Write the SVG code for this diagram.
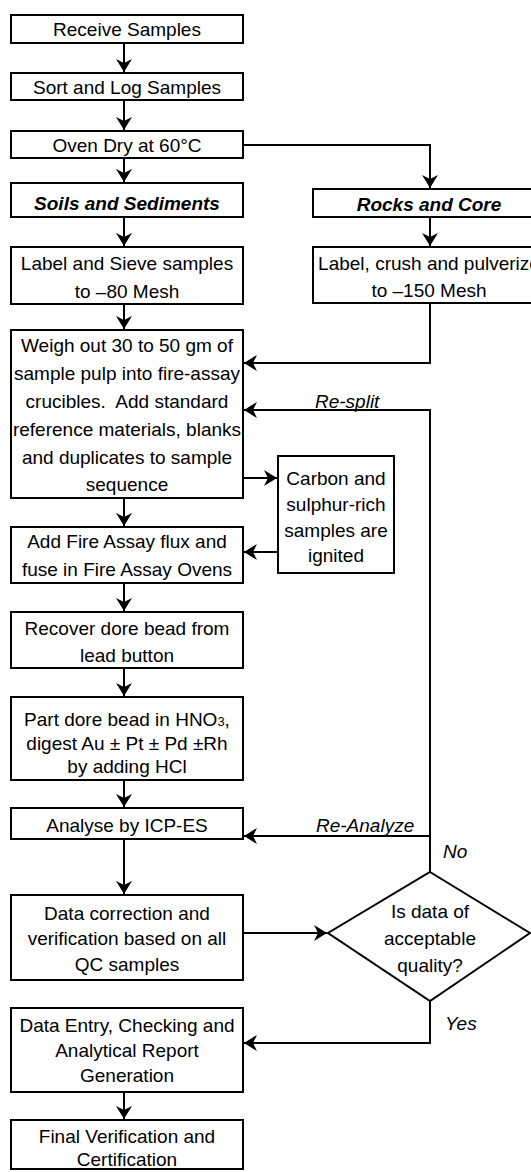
<svg xmlns="http://www.w3.org/2000/svg" width="531" height="1172" viewBox="0 0 531 1172">
<style>
.box{fill:#fff;stroke:#000;stroke-width:2}
.t{font-family:"Liberation Sans",Arial,sans-serif;font-size:19px;fill:#000;text-anchor:middle}
.bi{font-weight:bold;font-style:italic}
.it{font-family:"Liberation Sans",Arial,sans-serif;font-size:19px;font-style:italic;fill:#000}
.c{fill:none;stroke:#000;stroke-width:2}
</style>
<defs>
<marker id="ah" markerUnits="userSpaceOnUse" markerWidth="14" markerHeight="16" refX="13" refY="8" orient="auto">
<path d="M0,0 L13,8 L0,16 L4,8 Z" fill="#000"/>
</marker>
</defs>
<g id="connectors">
<path class="c" d="M124,43 V72" marker-end="url(#ah)"/>
<path class="c" d="M124,100 V130" marker-end="url(#ah)"/>
<path class="c" d="M124,158 V182" marker-end="url(#ah)"/>
<path class="c" d="M243,145 H430 V188" marker-end="url(#ah)"/>
<path class="c" d="M124,217 V246" marker-end="url(#ah)"/>
<path class="c" d="M430,217 V246" marker-end="url(#ah)"/>
<path class="c" d="M124,304 V329" marker-end="url(#ah)"/>
<path class="c" d="M430,303 V363 H244" marker-end="url(#ah)"/>
<path class="c" d="M243,478 H277" marker-end="url(#ah)"/>
<path class="c" d="M277,552 H244" marker-end="url(#ah)"/>
<path class="c" d="M124,498 V526" marker-end="url(#ah)"/>
<path class="c" d="M124,583 V611" marker-end="url(#ah)"/>
<path class="c" d="M124,668 V696" marker-end="url(#ah)"/>
<path class="c" d="M124,780 V807" marker-end="url(#ah)"/>
<path class="c" d="M430,872 V410 H244" marker-end="url(#ah)"/>
<path class="c" d="M430,836 H244" marker-end="url(#ah)"/>
<path class="c" d="M124,839 V894" marker-end="url(#ah)"/>
<path class="c" d="M243,933 H327" marker-end="url(#ah)"/>
<path class="c" d="M430,1001 V1043 H244" marker-end="url(#ah)"/>
<path class="c" d="M124,1092 V1119" marker-end="url(#ah)"/>
<text class="it" x="315" y="408">Re-split</text>
<text class="it" x="316" y="832">Re-Analyze</text>
<text class="it" x="443" y="858">No</text>
<text class="it" x="445" y="1030">Yes</text>
</g>
<g id="receive"><rect class="box" x="11" y="15" width="232" height="28"/><text class="t" x="127" y="36">Receive Samples</text></g>
<g id="sort"><rect class="box" x="11" y="73" width="232" height="27"/><text class="t" x="127" y="94">Sort and Log Samples</text></g>
<g id="oven"><rect class="box" x="11" y="131" width="232" height="27"/><text class="t" x="127" y="152">Oven Dry at 60°C</text></g>
<g id="soils"><rect class="box" x="11" y="183" width="232" height="34"/><text class="t bi" x="127" y="210">Soils and Sediments</text></g>
<g id="rocks"><rect class="box" x="313" y="189" width="232" height="28"/><text class="t bi" x="429" y="211">Rocks and Core</text></g>
<g id="sieve"><rect class="box" x="11" y="247" width="232" height="57"/><text class="t" x="127" y="270">Label and Sieve samples</text><text class="t" x="127" y="298">to –80 Mesh</text></g>
<g id="crush"><rect class="box" x="313" y="247" width="232" height="56"/><text class="t" x="429" y="270">Label, crush and pulverize</text><text class="t" x="429" y="297">to –150 Mesh</text></g>
<g id="weigh"><rect class="box" x="11" y="330" width="232" height="168"/>
<text class="t" x="127" y="352">Weigh out 30 to 50 gm of</text>
<text class="t" x="127" y="380">sample pulp into fire-assay</text>
<text class="t" x="127" y="408">crucibles.&#160; Add standard</text>
<text class="t" x="127" y="436">reference materials, blanks</text>
<text class="t" x="127" y="464">and duplicates to sample</text>
<text class="t" x="127" y="491">sequence</text></g>
<g id="carbon"><rect class="box" x="278" y="456" width="116" height="117"/>
<text class="t" x="336" y="485">Carbon and</text>
<text class="t" x="336" y="511">sulphur-rich</text>
<text class="t" x="336" y="537">samples are</text>
<text class="t" x="336" y="562">ignited</text></g>
<g id="flux"><rect class="box" x="11" y="527" width="232" height="56"/><text class="t" x="127" y="548">Add Fire Assay flux and</text><text class="t" x="127" y="576">fuse in Fire Assay Ovens</text></g>
<g id="recover"><rect class="box" x="11" y="612" width="232" height="56"/><text class="t" x="127" y="635">Recover dore bead from</text><text class="t" x="127" y="662">lead button</text></g>
<g id="part"><rect class="box" x="11" y="697" width="232" height="83"/>
<text class="t" x="127" y="726">Part dore bead in HNO<tspan font-size="13">3</tspan>,</text>
<text class="t" x="127" y="750">digest Au ± Pt ± Pd ±Rh</text>
<text class="t" x="127" y="773">by adding HCl</text></g>
<g id="analyse"><rect class="box" x="11" y="808" width="232" height="31"/><text class="t" x="127" y="832">Analyse by ICP-ES</text></g>
<g id="correction"><rect class="box" x="11" y="895" width="232" height="85"/>
<text class="t" x="127" y="920">Data correction and</text>
<text class="t" x="127" y="945">verification based on all</text>
<text class="t" x="127" y="971">QC samples</text></g>
<g id="decision"><path class="box" d="M430,872 L530,933 L430,1001 L328,933 Z"/>
<text class="t" x="430" y="918">Is data of</text>
<text class="t" x="430" y="945">acceptable</text>
<text class="t" x="430" y="972">quality?</text></g>
<g id="entry"><rect class="box" x="11" y="1008" width="232" height="84"/>
<text class="t" x="127" y="1032">Data Entry, Checking and</text>
<text class="t" x="127" y="1057">Analytical Report</text>
<text class="t" x="127" y="1082">Generation</text></g>
<g id="final"><rect class="box" x="11" y="1120" width="232" height="49"/>
<text class="t" x="127" y="1143">Final Verification and</text>
<text class="t" x="127" y="1166">Certification</text></g>
</svg>
